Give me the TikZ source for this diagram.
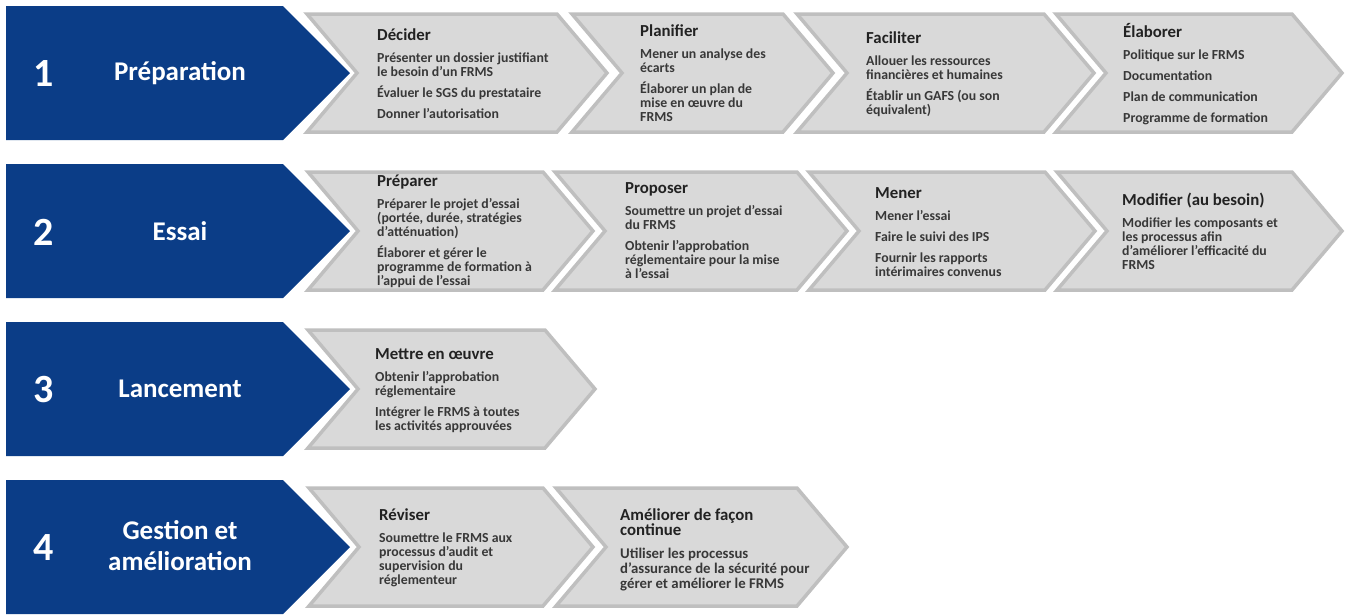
\documentclass[tikz,border=0pt]{standalone}
\usepackage{fontspec}
\setmainfont{Carlito}
\definecolor{bluefill}{HTML}{0B3D87}
\definecolor{grayfill}{HTML}{D9D9D9}
\definecolor{grayline}{HTML}{BFBFBF}
\definecolor{textgray}{HTML}{383838}
\definecolor{titlegray}{HTML}{222222}
\newcommand\steptitle{\fontsize{16.8}{14}\selectfont\color{titlegray}}
\newcommand\mychev[3]{%
  \draw[stepchev] (#1,#3-59) -- (#2,#3-59) -- (#2+50,#3) -- (#2,#3+59) -- (#1,#3+59) -- (#1+50,#3) -- cycle;}
\newcommand\myphase[1]{%
  \fill[phase] (6,#1-67) -- (283,#1-67) -- (350,#1) -- (283,#1+67) -- (6,#1+67) -- cycle;}
\begin{document}
\begin{tikzpicture}[x=1pt,y=-1pt,
  phase/.style={fill=bluefill},
  stepchev/.style={fill=grayfill, draw=grayline, line width=3.5pt, line join=miter},
  numtext/.style={text=white, font=\fontsize{40}{44}\selectfont\bfseries, inner sep=0pt},
  phasetext/.style={text=white, font=\fontsize{27}{31}\selectfont\bfseries, align=center, inner sep=0pt},
  stepbody/.style={anchor=west, align=left, text=textgray, font=\fontsize{13.8}{14}\selectfont\bfseries, inner sep=0pt},
]
\useasboundingbox (0,0) rectangle (1347,614);

% ---------- Row 1 ----------
\myphase{73}
\mychev{307}{557}{73}
\mychev{572}{783}{73}
\mychev{797}{1044}{73}
\mychev{1056}{1292}{73}
\node[numtext] (n1) at (44,74) {1};
\node[phasetext] (p1) at (180,73) {Préparation};
\node[stepbody] (s11) at (377,74) {{\steptitle Décider}\\[8pt]
  Présenter un dossier justifiant\\ le besoin d’un FRMS\\[7pt]
  Évaluer le SGS du prestataire\\[7pt]
  Donner l’autorisation};
\node[stepbody] (s12) at (640,73) {{\steptitle Planifier}\\[8pt]
  Mener un analyse des\\ écarts\\[7pt]
  Élaborer un plan de\\ mise en œuvre du\\ FRMS};
\node[stepbody] (s13) at (866,74) {{\steptitle Faciliter}\\[8pt]
  Allouer les ressources\\ financières et humaines\\[7pt]
  Établir un GAFS (ou son\\ équivalent)};
\node[stepbody] (s14) at (1123,74) {{\steptitle Élaborer}\\[8pt]
  Politique sur le FRMS\\[7pt]
  Documentation\\[7pt]
  Plan de communication\\[7pt]
  Programme de formation};

% ---------- Row 2 ----------
\myphase{231}
\mychev{308}{543}{231}
\mychev{555}{797}{231}
\mychev{809}{1045}{231}
\mychev{1057}{1292}{231}
\node[numtext] (n2) at (44,232) {2};
\node[phasetext] (p2) at (180,231) {Essai};
\node[stepbody] (s21) at (377,231) {{\steptitle Préparer}\\[8pt]
  Préparer le projet d’essai\\ (portée, durée, stratégies\\ d’atténuation)\\[7pt]
  Élaborer et gérer le\\ programme de formation à\\ l’appui de l’essai};
\node[stepbody] (s22) at (625,231) {{\steptitle Proposer}\\[8pt]
  Soumettre un projet d’essai\\ du FRMS\\[7pt]
  Obtenir l’approbation\\ réglementaire pour la mise\\ à l’essai};
\node[stepbody] (s23) at (875,232) {{\steptitle Mener}\\[8pt]
  Mener l’essai\\[7pt]
  Faire le suivi des IPS\\[7pt]
  Fournir les rapports\\ intérimaires convenus};
\node[stepbody] (s24) at (1122,231) {{\steptitle Modifier (au besoin)}\\[8pt]
  Modifier les composants et\\ les processus afin\\ d’améliorer l’efficacité du\\ FRMS};

% ---------- Row 3 ----------
\myphase{389}
\mychev{308}{545}{389}
\node[numtext] (n3) at (44,390) {3};
\node[phasetext] (p3) at (180,389) {Lancement};
\node[stepbody] (s31) at (375,391) {{\steptitle Mettre en œuvre}\\[8pt]
  Obtenir l’approbation\\ réglementaire\\[7pt]
  Intégrer le FRMS à toutes\\ les activités approuvées};

% ---------- Row 4 ----------
\myphase{547}
\mychev{309}{543}{547}
\mychev{556}{797}{547}
\node[numtext] (n4) at (44,548) {4};
\node[phasetext] (p4) at (180,546) {Gestion et\\ amélioration};
\node[stepbody] (s41) at (379,548) {{\steptitle Réviser}\\[8pt]
  Soumettre le FRMS aux\\ processus d’audit et\\ supervision du\\ réglementeur};
\node[stepbody, font=\fontsize{14.8}{15}\selectfont\bfseries] (s42) at (620,550) {{\steptitle Améliorer de façon}\\ {\steptitle continue}\\[8pt]
  Utiliser les processus\\ d’assurance de la sécurité pour\\ gérer et améliorer le FRMS};
\end{tikzpicture}
\end{document}
